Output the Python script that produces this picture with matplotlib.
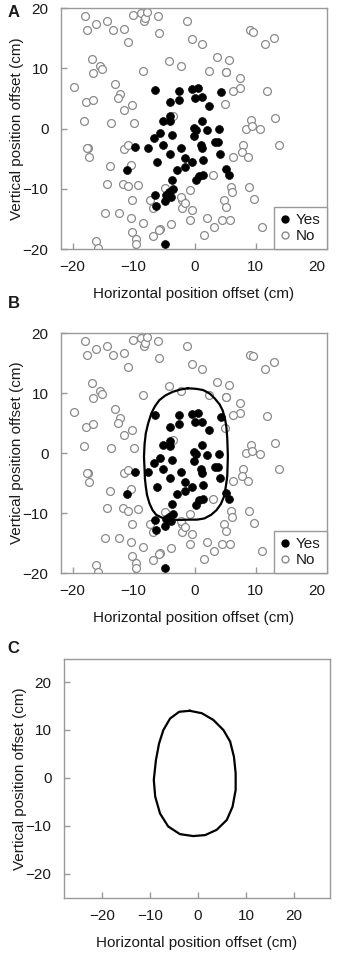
import matplotlib
matplotlib.use("Agg")
import matplotlib.pyplot as plt
from matplotlib.lines import Line2D

plt.rcParams["font.family"] = ["Liberation Sans", "DejaVu Sans"]

# responses: "Yes" (filled) and "No" (open), offsets in cm
yes_x = [-6.5, -2.6, -0.4, 0.5, 4.4, -4.0, -2.5, 0.1, 1.2, 2.4,
         -5.2, -4.0, -4.1, 1.2, -0.1, 0.3, 2.1, 4.0, -5.6, -6.7,
         -3.7, -0.1, 3.3, 3.8, -9.8, -7.6, -5.2, -2.3, 1.1, 1.2,
         -4.0, -1.5, 1.3, 4.2, -11.1, -6.1, -0.4, -1.6, -2.9, 5.1,
         5.6, 1.3, 0.7, 0.3, -3.7, -3.5, -4.2, -4.7, -3.8, -6.5,
         -6.4, -4.9, -4.9]
yes_y = [6.4, 6.3, 6.5, 6.7, 6.0, 4.4, 4.8, 5.1, 5.2, 3.8,
         1.3, 2.0, 1.2, 1.3, 0.1, -0.2, -0.3, -0.1, -0.8, -1.6,
         -1.1, -1.3, -2.3, -2.3, -3.1, -3.2, -2.7, -3.2, -2.7, -3.3,
         -4.2, -4.9, -5.3, -4.2, -6.8, -5.6, -5.6, -6.4, -6.8, -6.7,
         -7.7, -7.7, -7.9, -8.6, -8.5, -10.1, -10.6, -11.0, -11.3, -11.1,
         -12.8, -12.1, -19.2]

no_x = [-17.9, -17.7, -16.2, -14.3, -13.3, -11.5, -11.0, -10.1, -8.8, -8.3,
        -8.1, -7.8, -6.0, -5.9, -1.2, -0.4, 1.2, 9.1, 9.5, 11.6,
        13.0, -16.8, -15.5, -15.2, -16.7, -8.4, -4.2, -2.3, 3.6, 5.7,
        2.4, 5.1, 5.1, 7.4, 7.5, 6.3, 11.9, -19.7, -13.0, -12.3,
        -12.5, -17.8, -16.6, -10.3, -11.5, 4.9, -18.2, -13.7, -9.9, -3.6,
        9.3, 13.2, 8.4, 9.4, 10.7, 13.8, 7.9, 7.7, 8.8, 6.3,
        -17.4, -17.7, -17.3, -11.6, -10.9, -13.8, -10.5, -14.3, -11.8, -11.0,
        -9.3, -10.2, -7.3, -6.8, -14.7, -12.4, -10.5, -8.5, -10.3, -9.6,
        -9.6, -16.2, -15.8, -6.8, -5.7, -5.9, -3.9, -2.0, -2.3, -2.0,
        -0.5, -0.8, -1.6, -0.8, -4.8, 3.0, 5.9, 6.2, 8.9, 9.8,
        4.8, 5.2, 2.1, 4.5, 5.8, 3.2, 1.6, 11.1]
no_y = [18.6, 16.4, 17.4, 17.9, 16.4, 16.6, 14.3, 18.8, 19.1, 17.8,
        18.4, 19.3, 18.7, 15.8, 17.9, 14.9, 14.0, 16.3, 16.1, 14.0,
        15.1, 11.6, 10.3, 9.9, 9.2, 9.6, 11.2, 10.3, 11.8, 11.3,
        9.6, 9.3, 9.4, 8.4, 6.7, 6.3, 6.2, 6.9, 7.4, 5.8,
        5.0, 4.4, 4.8, 3.9, 3.0, 4.1, 1.2, 0.9, 0.9, 2.1,
        1.4, 1.7, 0.0, 0.4, -0.1, -2.7, -2.7, -3.9, -4.7, -4.7,
        -3.3, -3.3, -4.8, -3.4, -2.8, -6.3, -6.0, -9.2, -9.2, -9.6,
        -9.4, -11.8, -11.9, -13.2, -14.1, -14.1, -14.9, -15.7, -17.1, -18.4,
        -19.2, -18.7, -19.8, -17.9, -16.6, -16.8, -15.8, -11.9, -11.4, -13.2,
        -13.5, -15.2, -12.3, -10.2, -9.9, -7.7, -9.7, -10.6, -9.7, -11.7,
        -11.8, -13.0, -14.8, -15.1, -15.1, -16.3, -17.7, -16.4]

# boundary drawn in panel B (traced clockwise from the top)
bound_b_x = [-1.1, 0.3, 1.4, 2.5, 3.3, 4.1, 4.6, 5.0, 5.2, 5.35,
             5.4, 5.45, 5.4, 5.35, 5.2, 5.0, 4.8, 4.3, 3.6, 2.7,
             1.6, 0.4, -0.8, -2.5, -4.1, -5.3, -6.3, -6.9, -7.4, -7.8,
             -8.0, -8.15, -8.2, -8.3, -8.2, -8.0, -7.6, -7.1, -6.5, -5.8,
             -4.8, -3.6, -2.3, -1.1]
bound_b_y = [10.8, 10.7, 10.5, 9.9, 9.1, 8.1, 7.1, 5.6, 4.4, 2.5,
             1.0, -0.5, -2.3, -3.8, -5.0, -6.3, -7.3, -8.5, -9.5, -10.3,
             -10.9, -11.1, -11.1, -11.15, -11.1, -10.8, -10.3, -9.5, -8.4, -7.0,
             -5.6, -4.2, -2.8, -0.6, 1.5, 3.3, 5.0, 6.6, 7.8, 8.8,
             9.6, 10.2, 10.6, 10.8]

# boundary in panel C
bound_c_x = [-1.7, 0.8, 3.2, 5.3, 6.7, 7.5, 7.85, 7.85, 7.2, 6.0,
             3.9, 1.5, -1.0, -3.75, -6.2, -7.9, -8.9, -9.2, -8.75, -8.1,
             -7.2, -5.8, -3.9, -1.7]
bound_c_y = [14.0, 13.5, 12.1, 10.0, 7.6, 4.4, 1.0, -2.5, -6.0, -8.75,
             -10.8, -11.9, -12.1, -11.7, -10.1, -7.4, -3.9, -0.4, 3.75, 7.2,
             10.0, 12.4, 13.8, 14.0]

ticks = [-20, -10, 0, 10, 20]
spine_col = "#999999"
txt_col = "#1a1a1a"
fs = 11


def style_axes(ax, xlim, ylim):
    ax.set_xlim(*xlim)
    ax.set_ylim(*ylim)
    ax.set_xticks(ticks)
    ax.set_yticks(ticks)
    for s in ax.spines.values():
        s.set_color(spine_col)
        s.set_linewidth(1.0)
    ax.tick_params(axis="both", direction="in", length=4, width=1.0,
                   color=spine_col, labelsize=fs, labelcolor=txt_col)
    ax.tick_params(axis="x", pad=8)
    ax.tick_params(axis="y", pad=9)
    ax.set_xlabel("Horizontal position offset (cm)", fontsize=fs,
                  color=txt_col, labelpad=9)
    ax.set_ylabel("Vertical position offset (cm)", fontsize=fs,
                  color=txt_col, labelpad=-1)


def scatter_panel(ax):
    ax.scatter(no_x, no_y, s=32, facecolors="white", edgecolors="#8a8a8a",
               linewidths=0.9, zorder=2)
    ax.scatter(yes_x, yes_y, s=32, facecolors="black", edgecolors="black",
               linewidths=0.5, zorder=3)
    handles = [
        Line2D([], [], ls="none", marker="o", markersize=5,
               markerfacecolor="black", markeredgecolor="black"),
        Line2D([], [], ls="none", marker="o", markersize=5,
               markerfacecolor="white", markeredgecolor="#8a8a8a"),
    ]
    leg = ax.legend(handles, ["Yes", "No"], loc="lower right",
                    borderaxespad=0, fancybox=False, fontsize=fs,
                    handletextpad=0.35, handlelength=0.7, borderpad=0.4,
                    labelspacing=0.1, framealpha=1)
    leg.get_frame().set_edgecolor(spine_col)
    leg.get_frame().set_linewidth(1.0)
    for t in leg.get_texts():
        t.set_color(txt_col)
    style_axes(ax, (-21.9, 21.7), (-20, 20))


fig = plt.figure(figsize=(3.4, 9.56), dpi=100)

ax_a = fig.add_axes([0.1794, 0.7395, 0.7824, 0.2521])
scatter_panel(ax_a)

ax_b = fig.add_axes([0.1794, 0.4006, 0.7824, 0.2510])
scatter_panel(ax_b)
ax_b.plot(bound_b_x, bound_b_y, color="black", lw=1.6, zorder=4)

ax_c = fig.add_axes([0.1882, 0.0607, 0.7824, 0.2500])
ax_c.plot(bound_c_x, bound_c_y, color="black", lw=1.6)
style_axes(ax_c, (-27.9, 27.5), (-25, 24.8))

for lab, y in [("A", 0.987), ("B", 0.683), ("C", 0.322)]:
    fig.text(0.022, y, lab, fontsize=12, fontweight="bold",
             color=txt_col, va="center", ha="left")

fig.savefig("out.png", dpi=100)
